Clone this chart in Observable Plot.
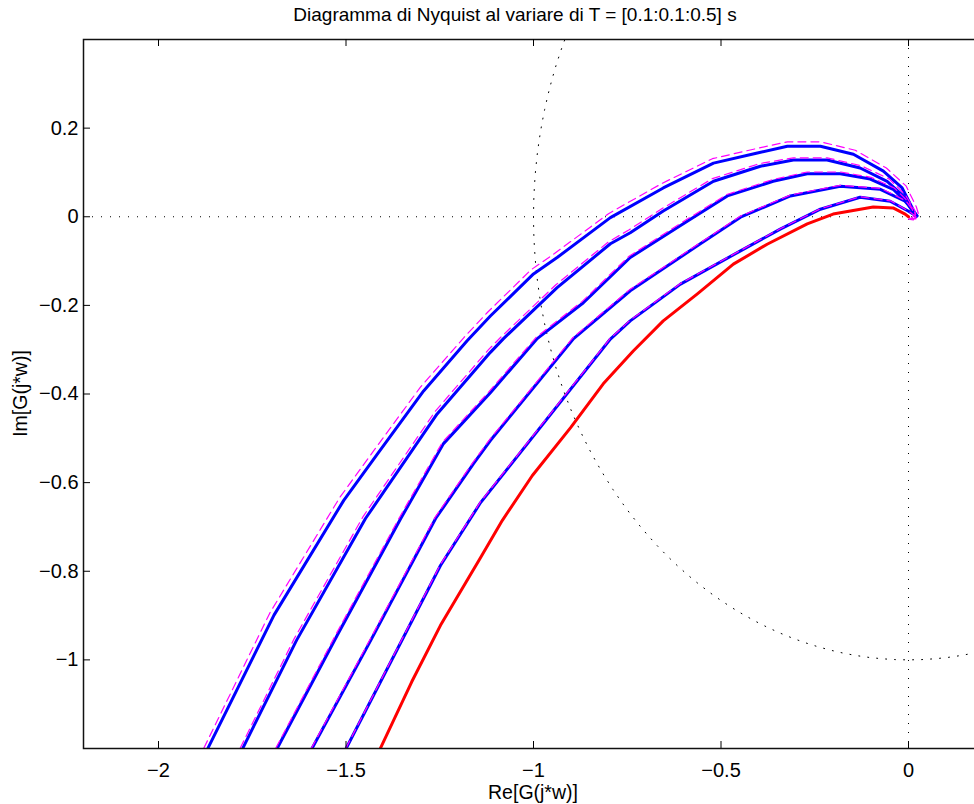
<!DOCTYPE html>
<html>
<head>
<meta charset="utf-8">
<script src="https://cdn.jsdelivr.net/npm/d3@7"></script>
<script src="https://cdn.jsdelivr.net/npm/@observablehq/plot@0.6"></script>
<style>
  html, body { margin: 0; padding: 0; background: #fff; overflow: hidden; }
  #wrap { width: 974px; height: 804px; overflow: hidden; font-family: "Liberation Sans", Arial, Helvetica, sans-serif; }
  #title { height: 30px; line-height: 30px; font-size: 19px; text-align: center; padding-left: 56px; box-sizing: border-box; width: 974px; color: #000; white-space: nowrap; }
</style>
</head>
<body>
<div id="wrap">
  <div id="title">Diagramma di Nyquist al variare di T = [0.1:0.1:0.5] s</div>
  <div id="chart"></div>
</div>
<script>
// ---- tick values ----
const xTicks = [-2, -1.5, -1, -0.5, 0];
const yTicks = [0.2, 0, -0.2, -0.4, -0.6, -0.8, -1];

// ---- axis texts ----
const xLabel = "Re[G(j*w)]";
const yLabel = "Im[G(j*w)]";

// ---- delays ----
const delays = [0.5, 0.4, 0.3, 0.2, 0.1];

// ---- G(jw) without delay (red), [Re, Im] ----
const red_T0 = [[-1.408,-1.199],[-1.325,-1.050],[-1.248,-0.922],[-1.141,-0.769],[-1.083,-0.685],[-1.003,-0.584],[-0.901,-0.476],[-0.814,-0.377],[-0.734,-0.303],[-0.654,-0.235],[-0.563,-0.174],[-0.467,-0.107],[-0.377,-0.062],[-0.270,-0.016],[-0.201,0.006],[-0.094,0.022],[-0.041,0.020],[-0.009,0.006],[0,0]];

// ---- G(jw)·e^(-jwT), exact delay (blue) ----
const blue_T05 = [[-1.868,-1.199],[-1.692,-0.899],[-1.506,-0.640],[-1.416,-0.535],[-1.293,-0.393],[-1.177,-0.280],[-1.115,-0.224],[-1.000,-0.129],[-0.937,-0.092],[-0.795,-0.002],[-0.654,0.065],[-0.520,0.121],[-0.403,0.144],[-0.323,0.159],[-0.235,0.159],[-0.147,0.141],[-0.067,0.103],[-0.017,0.065],[0.010,0.020],[0.018,0.002]];
const blue_T04 = [[-1.775,-1.199],[-1.632,-0.956],[-1.448,-0.681],[-1.257,-0.445],[-1.115,-0.306],[-1.080,-0.275],[-0.937,-0.160],[-0.795,-0.061],[-0.742,-0.036],[-0.654,0.013],[-0.520,0.080],[-0.395,0.114],[-0.307,0.128],[-0.217,0.128],[-0.129,0.110],[-0.057,0.080],[-0.014,0.047],[0.010,0.013],[0.023,0.002]];
const blue_T03 = [[-1.683,-1.199],[-1.523,-0.944],[-1.354,-0.681],[-1.240,-0.512],[-1.115,-0.397],[-0.990,-0.275],[-0.867,-0.194],[-0.742,-0.092],[-0.590,-0.010],[-0.483,0.047],[-0.361,0.080],[-0.270,0.097],[-0.182,0.097],[-0.102,0.085],[-0.041,0.062],[-0.001,0.029],[0.021,0.002]];
const blue_T02 = [[-1.590,-1.199],[-1.434,-0.956],[-1.261,-0.681],[-1.160,-0.557],[-1.115,-0.505],[-0.893,-0.275],[-0.742,-0.167],[-0.555,-0.061],[-0.448,-0.001],[-0.315,0.047],[-0.182,0.069],[-0.075,0.062],[-0.009,0.035],[0.018,0.008],[0.020,0.001]];
const blue_T01 = [[-1.499,-1.199],[-1.248,-0.787],[-1.141,-0.645],[-0.795,-0.276],[-0.742,-0.235],[-0.608,-0.152],[-0.448,-0.077],[-0.342,-0.028],[-0.235,0.017],[-0.129,0.044],[-0.049,0.035],[-0.001,0.013],[0.021,0.002]];

// ---- Padé approximation of the delay (magenta dashed) ----
const pade_T05 = [[-1.879,-1.199],[-1.703,-0.894],[-1.517,-0.634],[-1.426,-0.528],[-1.302,-0.385],[-1.185,-0.272],[-1.123,-0.216],[-1.007,-0.120],[-0.944,-0.083],[-0.800,0.007],[-0.658,0.075],[-0.523,0.131],[-0.405,0.154],[-0.323,0.169],[-0.234,0.169],[-0.142,0.150],[-0.059,0.110],[-0.006,0.069],[0.021,0.022],[0.026,0.008],[0.013,-0.007],[-0.004,-0.005],[-0.001,-0.001]];
const pade_T04 = [[-1.782,-1.199],[-1.638,-0.952],[-1.454,-0.676],[-1.262,-0.439],[-1.120,-0.300],[-1.085,-0.270],[-0.941,-0.154],[-0.799,-0.056],[-0.746,-0.030],[-0.656,0.019],[-0.523,0.086],[-0.397,0.120],[-0.307,0.133],[-0.217,0.133],[-0.126,0.115],[-0.051,0.085],[-0.008,0.049],[0.017,0.014],[0.021,-0.005],[0.002,-0.003]];
const pade_T03 = [[-1.687,-1.199],[-1.526,-0.941],[-1.357,-0.678],[-1.243,-0.509],[-1.118,-0.394],[-0.993,-0.272],[-0.870,-0.191],[-0.745,-0.089],[-0.593,-0.007],[-0.485,0.050],[-0.362,0.084],[-0.270,0.101],[-0.181,0.101],[-0.100,0.089],[-0.038,0.065],[0.003,0.031],[0.020,-0.004],[0.003,-0.004]];
const pade_T02 = [[-1.592,-1.199],[-1.436,-0.954],[-1.263,-0.679],[-1.162,-0.555],[-1.117,-0.503],[-0.895,-0.273],[-0.744,-0.165],[-0.556,-0.059],[-0.449,0.001],[-0.315,0.049],[-0.182,0.071],[-0.074,0.064],[-0.007,0.036],[0.019,0.006],[0.008,-0.004]];
const pade_T01 = [[-1.500,-1.199],[-1.249,-0.786],[-1.142,-0.644],[-0.796,-0.275],[-0.743,-0.234],[-0.609,-0.151],[-0.448,-0.076],[-0.342,-0.027],[-0.235,0.018],[-0.129,0.045],[-0.048,0.036],[0.000,0.013],[0.020,0.000]];

// ---- unit circle reference (angles in degrees) ----
const circleAngles = d3.range(0, 361, 2);

// ---- build tables ----
const blueSets = [blue_T05, blue_T04, blue_T03, blue_T02, blue_T01];
const padeSets = [pade_T05, pade_T04, pade_T03, pade_T02, pade_T01];
const toRows = (sets) => sets.flatMap((pts, i) => pts.map(([re, im]) => ({re, im, T: delays[i]})));
const blueRows = toRows(blueSets);
const padeRows = toRows(padeSets);
const redRows = red_T0.map(([re, im]) => ({re, im}));
const circleRows = circleAngles.map(a => ({re: Math.cos(a * Math.PI / 180), im: Math.sin(a * Math.PI / 180)}));

const fmt = d => (d < 0 ? "\u2212" : "") + String(Math.abs(d));

const W = 974, H = 774, ML = 83, MR = -9, MT = 9, MB = 56;
const frameW = W - ML - MR;
const frameH = H - MT - MB;
const dotted = "1,8";

const chart = Plot.plot({
  width: W, height: H,
  marginLeft: ML, marginRight: MR, marginTop: MT, marginBottom: MB,
  x: {domain: [-2.2, 0.2]},
  y: {domain: [-1.2, 0.4]},
  style: {fontFamily: '"Liberation Sans", Arial, Helvetica, sans-serif', fontSize: "20px", color: "#000", background: "#fff"},
  marks: [
    Plot.line(circleRows, {x: "re", y: "im", stroke: "#000", strokeWidth: 1, strokeDasharray: dotted, clip: true}),
    Plot.ruleY([0], {stroke: "#000", strokeWidth: 1, strokeDasharray: dotted}),
    Plot.ruleX([0], {stroke: "#000", strokeWidth: 1, strokeDasharray: dotted}),
    Plot.line(blueRows, {x: "re", y: "im", z: "T", stroke: "#0000ff", strokeWidth: 3, clip: true}),
    Plot.line(padeRows, {x: "re", y: "im", z: "T", stroke: "#ff00ff", strokeWidth: 1.2, strokeDasharray: "8,5", clip: true}),
    Plot.line(redRows, {x: "re", y: "im", stroke: "#ff0000", strokeWidth: 3, clip: true}),
    Plot.frame({stroke: "#111", strokeWidth: 1.5}),
    Plot.tickX(xTicks, {x: d => d, insetTop: frameH - 7, stroke: "#000"}),
    Plot.tickX(xTicks, {x: d => d, insetBottom: frameH - 7, stroke: "#000"}),
    Plot.tickY(yTicks, {y: d => d, insetRight: frameW - 7, stroke: "#000"}),
    Plot.axisX(xTicks, {tickSize: 0, tickPadding: 14, tickFormat: fmt, label: null}),
    Plot.axisY(yTicks, {tickSize: 0, tickPadding: 5, tickFormat: fmt, label: null})
  ]
});

const svg = d3.select(chart);
svg.append("text")
  .attr("x", 533).attr("y", H - 5.5)
  .attr("text-anchor", "middle")
  .attr("font-size", "19.5px")
  .attr("fill", "#000")
  .text(xLabel);
svg.append("text")
  .attr("transform", `translate(27,${(MT + H - MB) / 2}) rotate(-90)`)
  .attr("text-anchor", "middle")
  .attr("font-size", "19.5px")
  .attr("fill", "#000")
  .text(yLabel);

document.getElementById("chart").appendChild(chart);
</script>
</body>
</html>
